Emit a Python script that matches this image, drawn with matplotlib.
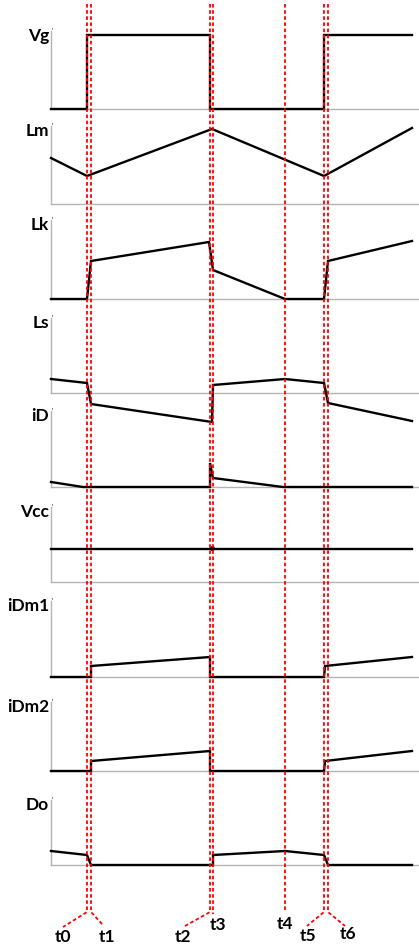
import matplotlib.pyplot as plt

plt.rcParams['font.family'] = ['Lato', 'DejaVu Sans']

# event times (time axis, arbitrary units)
t_names = ["t0", "t1", "t2", "t3", "t4", "t5", "t6"]
t_events = [36, 40, 159, 162, 234, 273, 277]
t_end = 361

# waveforms: (time, value)
vg_t = [0, 36, 36, 159, 159, 273, 273, 361]
vg_v = [0, 0, 74, 74, 0, 0, 74, 74]

lm_t = [0, 36, 161, 273, 361]
lm_v = [46, 28, 75, 28, 76]

lk_t = [0, 36, 40, 158, 162, 234, 273, 277, 361]
lk_v = [0, 0, 38, 57, 29, 0, 0, 38, 58]

ls_t = [0, 36, 40, 161, 162, 234, 273, 277, 361]
ls_v = [14, 10, -11, -29, 8, 14, 10, -10, -28]

id_t = [0, 32, 159, 159, 162, 232, 361]
id_v = [5, 0, 0, 24, 9, 0, 0]

vcc_t = [0, 361]
vcc_v = [33, 33]

idm1_t = [0, 40, 40, 159, 159, 273, 274, 361]
idm1_v = [0, 0, 11, 20, 0, 0, 11, 20]

idm2_t = [0, 40, 40, 159, 159, 273, 274, 361]
idm2_v = [0, 0, 10, 20, 0, 0, 10, 20]

do_t = [0, 36, 40, 162, 162, 234, 273, 277, 361]
do_v = [14, 10, 0, 0, 10, 14, 10, 0, 0]

panels = [
    ("Vg", vg_t, vg_v, 36, 110),
    ("Lm", lm_t, lm_v, 131, 205),
    ("Lk", lk_t, lk_v, 225, 300),
    ("Ls", ls_t, ls_v, 323, 394),
    ("iD", id_t, id_v, 416, 488),
    ("Vcc", vcc_t, vcc_v, 512, 583),
    ("iDm1", idm1_t, idm1_v, 606, 678),
    ("iDm2", idm2_t, idm2_v, 707, 772),
    ("Do", do_t, do_v, 805, 866),
]

W, H = 419, 945
fig = plt.figure(figsize=(W / 100, H / 100), dpi=100)

x0 = 51
for name, t, v, label_y, base_y in panels:
    top_y = label_y - 4
    ax = fig.add_axes([x0 / W, 1 - base_y / H, (W - x0) / W, (base_y - top_y) / H])
    ax.set_xlim(0, W - x0)
    ax.set_ylim(0, base_y - top_y)
    ax.plot(t, v, color="black", lw=1.7, clip_on=False, solid_joinstyle="miter", zorder=3)
    if name == "Vcc":
        ax.plot([161], [34], "o", color="black", ms=2.5, clip_on=False, zorder=3)
    for s in ["top", "right"]:
        ax.spines[s].set_visible(False)
    for s in ["left", "bottom"]:
        ax.spines[s].set_color("#b4b4b4")
        ax.spines[s].set_linewidth(1.0)
    ax.set_xticks([])
    ax.set_yticks([])
    ax.patch.set_alpha(0)
    fig.text((x0 - 2) / W, 1 - label_y / H, name, ha="right", va="center",
             fontsize=12.5, fontweight="bold", color="black")
    fig.text((x0 + 0.5) / W, 1 - (label_y - 5) / H, "'", ha="left", va="center",
             fontsize=5, color="black")

# overlay for red dashed time markers
ov = fig.add_axes([0, 0, 1, 1])
ov.set_xlim(-x0, W - x0)
ov.set_ylim(H, 0)
ov.axis("off")
ov.patch.set_alpha(0)

# where each marker goes below the panels and where its label sits
label_pos = {
    "t0": (12, 928, 12, 937),
    "t1": (52, 926, 56, 937),
    "t2": (134, 927, 132, 937),
    "t3": (None, 915, 167, 925),
    "t4": (None, 913, 234, 924),
    "t5": (256, 927, 257, 936),
    "t6": (294, 927, 297, 934),
}
for name, te in zip(t_names, t_events):
    ex, ey, lx, ly = label_pos[name]
    xs = [te, te]
    ys = [5, 913 if ex is not None else ey]
    if ex is not None:
        xs.append(ex)
        ys.append(ey)
    ov.plot(xs, ys, color="red", lw=1.3, ls=(0, (2.0, 1.4)), zorder=5)
    ov.text(lx, ly, name, ha="center", va="center", fontsize=12.5,
            fontweight="bold", color="black")

fig.savefig("out.png", dpi=100)
